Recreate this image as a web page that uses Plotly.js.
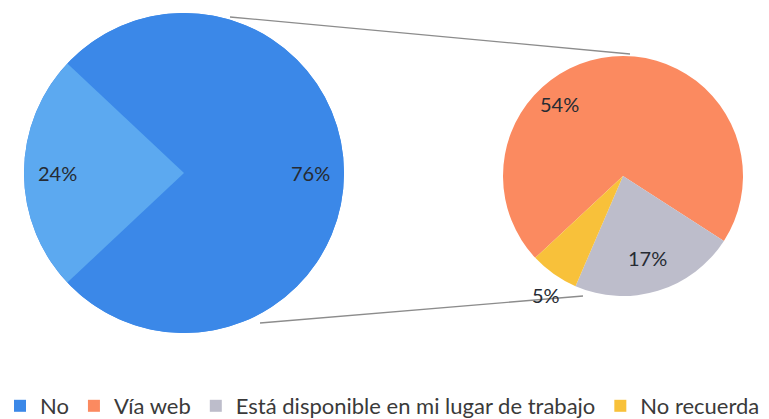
<!DOCTYPE html>
<html><head><meta charset="utf-8">
<script src="https://cdn.plot.ly/plotly-3.0.1.min.js"></script>
<style>html,body{margin:0;padding:0;background:#fff}#chart{width:769px;height:419px}</style>
</head><body><div id="chart"></div>
<script>
// Data
const mainLabels = ['No', 'Sí'];
const mainValues = [76, 24];
const mainColors = ['#3b88e8', '#5ca9f0'];

const subLabels = ['Vía web', 'Está disponible en mi lugar de trabajo', 'No recuerda'];
const subValues = [54, 17, 5];
const subColors = ['#fb8a60', '#bdbdcb', '#f8c13a'];

// Geometry / style (pixels)
const W = 769, H = 419;
const px = v => v / W;
const py = v => 1 - v / H;
const leftPie = {cx: 184, cy: 173, r: 160, rot: -46.8, labelR: [0.79, 0.79], labelShift: [0, 0]};
const rightPie = {cx: 623, cy: 176, r: 120, rot: -133, labelR: [0.8, 0.71, 1.18], labelShift: [-36, 0, -2]};

function domainOf(p) {
  return {x: [px(p.cx - p.r), px(p.cx + p.r)], y: [py(p.cy + p.r), py(p.cy - p.r)]};
}
const labelFont = {family: 'Lato, sans-serif', size: 20, color: '#262b33'};

// percentage labels placed from the slice geometry (clockwise from 12 o'clock)
function sliceLabels(p, values) {
  const total = values.reduce((a, b) => a + b, 0);
  let cum = 0;
  return values.map((v, i) => {
    const mid = p.rot + (cum + v / 2) / total * 360 + p.labelShift[i];
    cum += v;
    const a = mid * Math.PI / 180;
    const rr = p.r * p.labelR[i];
    return {
      xref: 'paper', yref: 'paper', showarrow: false,
      x: px(p.cx + rr * Math.sin(a)), y: py(p.cy - rr * Math.cos(a)),
      xanchor: 'center', yanchor: 'middle',
      text: v + '%', font: labelFont
    };
  });
}

const traces = [
  // legend entry for the main category (drawn under the main pie)
  {
    type: 'pie', labels: [mainLabels[0]], values: [mainValues[0]],
    marker: {colors: [mainColors[0]], line: {width: 0}},
    domain: domainOf(leftPie), textinfo: 'none', sort: false, hoverinfo: 'skip',
    showlegend: true
  },
  // main pie
  {
    type: 'pie', labels: mainLabels, values: mainValues,
    marker: {colors: mainColors, line: {width: 0}},
    domain: domainOf(leftPie), sort: false, direction: 'clockwise', rotation: leftPie.rot,
    textinfo: 'none', hoverinfo: 'skip', showlegend: false
  },
  // secondary pie
  {
    type: 'pie', labels: subLabels, values: subValues,
    marker: {colors: subColors, line: {width: 0}},
    domain: domainOf(rightPie), sort: false, direction: 'clockwise', rotation: rightPie.rot,
    textinfo: 'none', hoverinfo: 'skip', showlegend: true
  }
];

const layout = {
  width: W, height: H,
  margin: {l: 0, r: 0, t: 0, b: 0, autoexpand: false},
  paper_bgcolor: '#ffffff',
  font: {family: 'Lato, sans-serif', color: '#3a3a3a'},
  showlegend: true,
  legend: {
    orientation: 'h', x: 0, xanchor: 'left', y: py(406), yanchor: 'middle',
    font: {family: 'Lato, sans-serif', size: 22, color: '#3a3a3a'},
    bgcolor: 'rgba(0,0,0,0)', traceorder: 'normal'
  },
  annotations: sliceLabels(leftPie, mainValues).concat(sliceLabels(rightPie, subValues)),
  shapes: [
    {type: 'line', xref: 'paper', yref: 'paper', x0: px(230), y0: py(17), x1: px(630), y1: py(54),
     line: {color: '#8c8c8c', width: 1.3}},
    {type: 'line', xref: 'paper', yref: 'paper', x0: px(260), y0: py(323), x1: px(583), y1: py(296),
     line: {color: '#8c8c8c', width: 1.3}}
  ]
};

Plotly.newPlot('chart', traces, layout, {displayModeBar: false, staticPlot: true});
</script>
</body></html>
